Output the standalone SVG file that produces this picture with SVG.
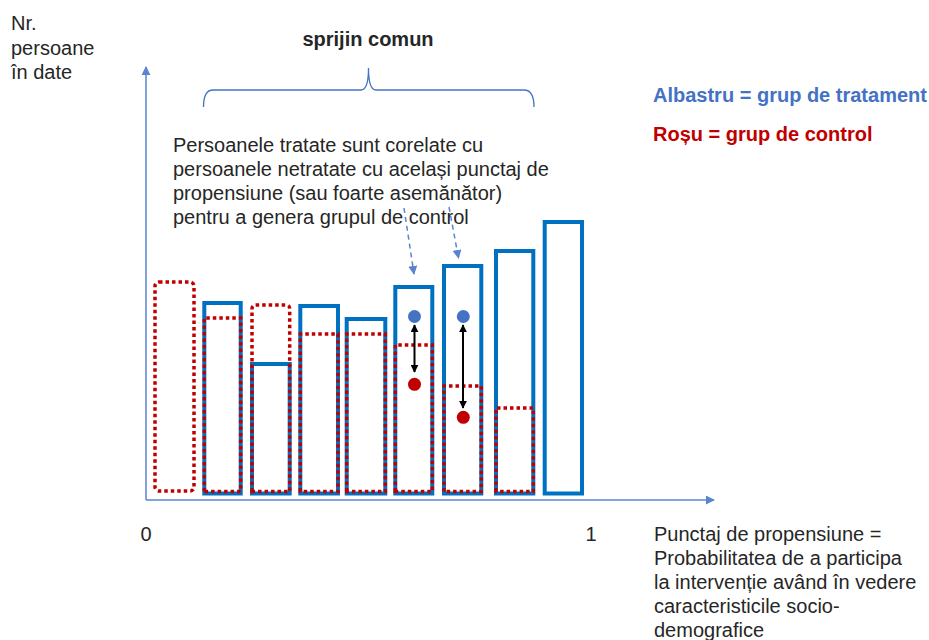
<svg xmlns="http://www.w3.org/2000/svg" width="929" height="640" viewBox="0 0 929 640">
<defs>
<style>
text{font-family:"Liberation Sans",Arial,sans-serif;font-size:20px;fill:#262626}
.b{font-weight:bold}
.blue{fill:none;stroke:#0070C0;stroke-width:4}
.red{fill:none;stroke:#C00000;stroke-width:3.5;stroke-dasharray:3.5 3}
.axis{stroke:#5B84D0;stroke-width:1.5;fill:none}
.dash{stroke:#5B84D0;stroke-width:1.5;stroke-dasharray:5 4;fill:none}
.dbl{stroke:#000;stroke-width:2;fill:none}
</style>
<marker id="ah" viewBox="0 0 10 10" refX="9" refY="5" markerWidth="9" markerHeight="9" markerUnits="userSpaceOnUse" orient="auto"><path d="M0,0L10,5L0,10z" fill="#5B84D0"/></marker>
<marker id="bk" viewBox="0 0 10 10" refX="9" refY="5" markerWidth="8" markerHeight="8" markerUnits="userSpaceOnUse" orient="auto-start-reverse"><path d="M0,0L10,5L0,10z" fill="#000"/></marker>
</defs>
<rect width="929" height="640" fill="#fff"/>

<g id="labels">
<text x="11" y="30">Nr.</text>
<text x="11" y="55">persoane</text>
<text x="11" y="79">în date</text>
<text class="b" x="368" y="46" text-anchor="middle">sprijin comun</text>
<text x="173" y="152">Persoanele tratate sunt corelate cu</text>
<text x="173" y="176">persoanele netratate cu acela<tspan>ș</tspan>i punctaj de</text>
<text x="173" y="200">propensiune (sau foarte asemănător)</text>
<text x="173" y="224">pentru a genera grupul de control</text>
<text class="b" x="653" y="102" style="fill:#4472C4">Albastru = grup de tratament</text>
<text class="b" x="653" y="141" style="fill:#C00000">Roșu = grup de control</text>
<text x="146" y="541" text-anchor="middle">0</text>
<text x="591" y="541" text-anchor="middle">1</text>
<text x="654" y="541">Punctaj de propensiune =</text>
<text x="654" y="565">Probabilitatea de a participa</text>
<text x="654" y="589">la intervenție având în vedere</text>
<text x="654" y="613">caracteristicile socio-</text>
<text x="654" y="637">demografice</text>
</g>

<g id="bars">
<g id="bar0"><rect class="red" x="155" y="282" width="39" height="209" rx="4"/></g>
<g id="bar1"><rect class="blue" x="204.3" y="303" width="36.4" height="190.5"/><path class="red" d="M204.3,491.5V318H240.7V491.5Z"/></g>
<g id="bar2"><rect class="blue" x="252" y="364" width="37.7" height="129.5"/><path class="red" d="M252,491.5V309Q252,305 256,305H285.7Q289.7,305 289.7,309V491.5Z"/></g>
<g id="bar3"><rect class="blue" x="300.3" y="306" width="37.7" height="187.5"/><path class="red" d="M300.3,491.5V334H338V491.5Z"/></g>
<g id="bar4"><rect class="blue" x="346.7" y="319" width="38.6" height="174.5"/><path class="red" d="M346.7,491.5V334H385.3V491.5Z"/></g>
<g id="bar5"><rect class="blue" x="395.3" y="287" width="37" height="206.5"/><path class="red" d="M395.3,491.5V345H432.3V491.5Z"/></g>
<g id="bar6"><rect class="blue" x="444" y="266" width="37.3" height="227.5"/><path class="red" d="M444,491.5V386H481.3V491.5Z"/></g>
<g id="bar7"><rect class="blue" x="496" y="251" width="37.3" height="242.5"/><path class="red" d="M496,491.5V408H533.3V491.5Z"/></g>
<g id="bar8"><rect class="blue" x="544.7" y="222" width="37.3" height="271.5"/></g>
</g>

<g id="dots">
<circle cx="414.5" cy="316.5" r="6.5" fill="#4472C4"/>
<circle cx="463.3" cy="316.5" r="6.5" fill="#4472C4"/>
<circle cx="414.5" cy="384.3" r="6.5" fill="#C00000"/>
<circle cx="463.3" cy="417.3" r="6.5" fill="#C00000"/>
</g>

<g id="connectors">
<path class="axis" d="M146,500V67" marker-end="url(#ah)"/>
<path class="axis" d="M146,500H714" marker-end="url(#ah)"/>
<path d="M203.5,107Q203.5,90 213,90H361Q368.5,90 368.5,68Q368.5,90 376,90H524Q534,90 534,107" fill="none" stroke="#4472C4" stroke-width="1.3"/>
<path class="dash" d="M404,208L414,274" marker-end="url(#ah)"/>
<path class="dash" d="M449,207L458.5,258" marker-end="url(#ah)"/>
<path class="dbl" d="M414.5,325V372" marker-start="url(#bk)" marker-end="url(#bk)"/>
<path class="dbl" d="M463,325V408" marker-start="url(#bk)" marker-end="url(#bk)"/>
</g>
</svg>
